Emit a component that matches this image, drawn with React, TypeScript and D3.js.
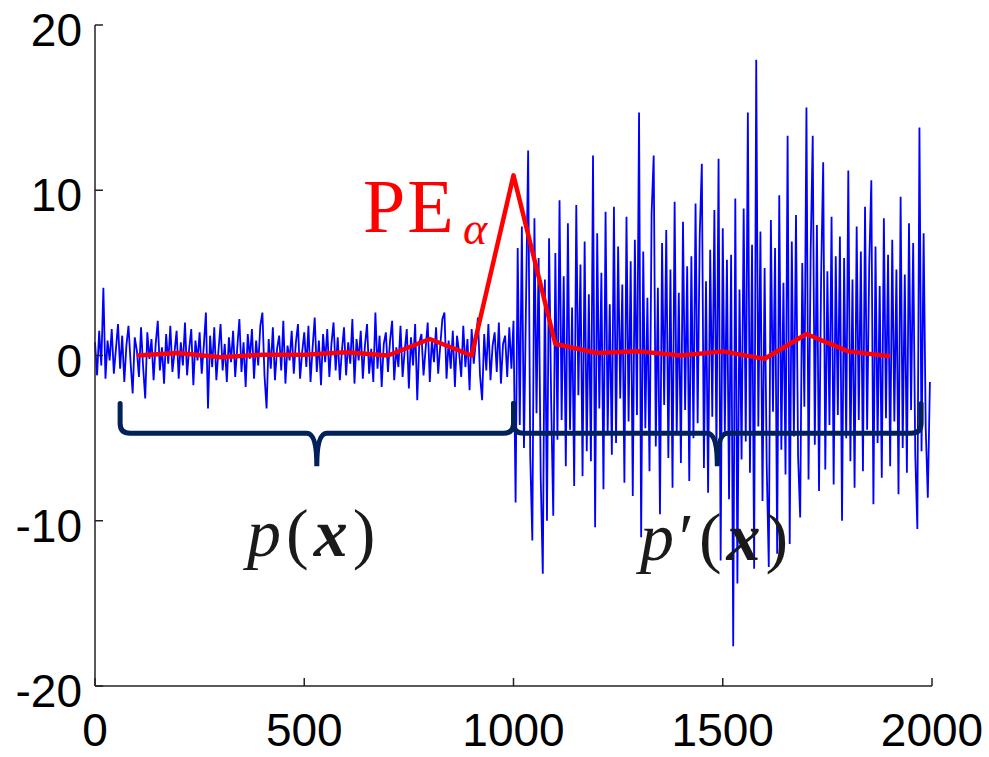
import React from "react";
import * as d3 from "d3";

const W = 989;
const H = 757;

const xTicks = [0, 500, 1000, 1500, 2000];
const yTicks = [-20, -10, 0, 10, 20];

// blue signal, read every 5 samples
const sampleStep = 5;
const signalBefore = [
  0.8, -1.2, 1.5, -0.6, 4.1, -1.4, 0.9, -0.3, 1.6, -1.1, 0.4, 1.9, -0.8, 1.2, -1.6, 0.6, 1.8, -0.4, -2.3, 1.1,
  0.3, -1.3, 1.7, -0.7, -2.6, 1.4, -0.2, 1.0, -1.5, 0.7, 2.1, -0.9, 0.5, -1.7, 1.3, -0.5, 1.8, -1.0, 0.2, 1.5,
  -1.4, 0.8, -0.6, 2.0, -1.2, 0.4, 1.6, -1.8, 0.9, -0.3, 1.4, -1.1, 0.6, 2.6, -3.2, 1.2, -0.7, 1.7, -1.5, 0.3,
  1.9, -0.9, 0.7, -1.6, 1.1, -0.4, 1.5, -1.3, 0.5, 2.2, -1.0, 0.8, -1.9, 1.3, -0.2, 1.6, -1.4, 0.9, -0.6, 1.8,
  2.6, -1.2, -3.2, 1.0, -0.8, 1.7, -1.5, 0.4, 1.2, -0.9, 2.1, -1.7, 0.6, -0.3, 1.5, -1.1, 0.8, 1.9, -1.4, 0.2,
  1.4, -0.7, 1.8, -1.6, 0.5, 2.3, -1.0, 0.9, -1.8, 1.3, -0.4, 1.6, -1.3, 0.7, 2.0, -0.9, 1.1, -1.5, 0.3, 1.7,
  -1.2, 0.8, -0.5, 2.2, -1.7, 1.0, -0.3, 1.5, -1.4, 0.6, 1.9, -1.1, 0.4, -1.6, 2.6, -0.8, 1.2, -1.9, 0.7, 1.4,
  -1.0, 0.9, 2.1, -1.5, 0.5, -0.7, 1.8, -1.3, 0.3, 1.6, -2.0, 1.1, -0.6, 1.9, -2.7, 0.8, 1.3, -1.2, 0.4, 2.0,
  -1.6, 1.0, -0.4, 1.7, -1.1, 0.6, 2.2, 2.6, -1.4, 0.9, -0.8, 1.5, -1.9, 1.2, 0.2, -1.3, 1.8, -0.7, 1.0, -2.1,
  1.6, -0.5, 0.9, 2.3, -1.2, -2.7, 1.3, -0.9, 1.9, -1.5, 0.6, 1.4, -1.0, 2.0, -1.7, 0.7, 1.2, -1.3, 1.7, -0.8,
];
const signalAfter = [
  2.1, -8.9, 6.5, -4.2, 7.8, -5.6, 3.4, 12.4, -6.1, -11.2, 8.3, -3.5, 5.9, -7.4, -13.2, 4.6, -10.0, 7.1, -2.8, -9.7,
  6.2, -5.1, 9.4, -3.9, 4.8, -6.7, 8.0, -4.5, 2.9, -7.9, 9.1, -2.4, 5.5, -7.3, 6.9, -5.8, 3.7, -6.4, 12.1, -10.4,
  7.4, -3.2, 5.0, -8.1, 8.7, -4.7, 3.1, -6.0, 9.0, -5.3, 6.6, -2.6, 4.3, -7.7, 8.4, -4.0, 5.7, -8.5, 7.0, -3.6,
  14.7, -11.0, 6.3, -4.4, 3.5, -7.0, 8.6, 12.1, -5.5, 4.1, -9.6, 6.8, -3.0, 7.6, -6.2, 5.2, -8.0, 9.3, -4.8, 3.8,
  -6.5, 8.1, -3.3, 5.4, -7.6, 6.0, -5.0, 9.2, -4.1, 7.3, 11.6, -6.8, 4.5, -8.3, 6.4, -3.7, 8.8, -5.9, 11.9, -12.4,
  7.7, -4.6, 5.8, -8.7, 6.1, -17.6, 9.5, -13.8, 4.0, -6.3, 8.9, -5.2, 14.7, -7.1, 6.7, -12.9, 17.9, -4.3, 7.5, -8.8,
  5.3, -6.6, -12.8, 8.2, -3.4, 6.5, -12.0, 9.7, -5.7, 4.4, -7.2, 13.3, -11.4, 6.9, -4.9, 8.5, -6.1, -9.8, 5.6, -3.1,
  15.0, -7.5, 6.2, 13.3, -5.4, 7.9, -8.2, 4.7, 11.7, -6.9, 5.1, -4.2, 8.4, -7.8, 6.0, -3.6, 7.2, -10.0, 5.9, -5.0,
  11.2, -6.4, 4.6, -8.0, 7.8, -3.9, 6.3, -7.0, 9.0, -4.5, 5.5, 10.6, -9.0, 6.6, -5.3, 4.2, -7.4, 8.3, -3.8, 6.1,
  -6.7, 7.0, -4.0, 5.2, -8.4, 9.6, -5.6, 4.9, -7.1, 8.0, -3.3, 6.8, -6.0, -10.5, 13.8, -5.8, 7.4, -4.4, -8.6, -1.6,
];

// PE_alpha curve
const peX = [100, 200, 300, 400, 500, 600, 700, 800, 900, 1000, 1100, 1200, 1300, 1400, 1500, 1600, 1700, 1800, 1900];
const peY = [0, 0.15, -0.1, 0.05, 0.05, 0.2, 0, 1.0, 0, 10.9, 0.7, 0.15, 0.25, 0, 0.25, -0.2, 1.3, 0.25, -0.05];

// braces under the two halves: [start, end, tip]
const braces = [
  [60, 1000, 530],
  [1000, 1974, 1487],
];
const braceTop = -2.9;
const braceBar = -4.7;
const braceTip = -6.7;

export default function App() {
  const x = d3.scaleLinear().domain([0, 2000]).range([95, 932]);
  const y = d3.scaleLinear().domain([-20, 20]).range([686, 25]);

  const signal = [...signalBefore, ...signalAfter];
  const blueLine = d3
    .line<number>()
    .x((_, i) => x(i * sampleStep))
    .y((d) => y(d));
  const redLine = d3
    .line<number>()
    .x((_, i) => x(peX[i]))
    .y((d) => y(d));

  const bracePath = (b: number[]) => {
    const x0 = x(b[0]);
    const x1 = x(b[1]);
    const xm = x(b[2]);
    const yt = y(braceTop);
    const yb = y(braceBar);
    const yc = y(braceTip);
    const r = 10;
    return (
      `M${x0},${yt} L${x0},${yb - r} Q${x0},${yb} ${x0 + r},${yb} L${xm - r},${yb} Q${xm},${yb} ${xm},${yc}` +
      ` Q${xm},${yb} ${xm + r},${yb} L${x1 - r},${yb} Q${x1},${yb} ${x1},${yb - r} L${x1},${yt}`
    );
  };

  const tickFont = "'Liberation Sans', Arial, sans-serif";
  const mathFont = "'Liberation Serif', 'Times New Roman', serif";

  return (
    <svg width={W} height={H} style={{ position: "absolute", left: 0, top: 0, background: "#fff" }}>
      <path d={blueLine(signal) || ""} fill="none" stroke="#0000ff" strokeWidth={1.8} strokeLinejoin="bevel" />
      <path d={redLine(peY) || ""} fill="none" stroke="#ff0000" strokeWidth={4.5} strokeLinejoin="round" />
      {braces.map((b, i) => (
        <path key={i} d={bracePath(b)} fill="none" stroke="#00215a" strokeWidth={5} strokeLinecap="round" />
      ))}

      <g stroke="#222" strokeWidth={1.5}>
        <line x1={x(0)} x2={x(0)} y1={y(20)} y2={y(-20)} />
        <line x1={x(0)} x2={x(2000)} y1={y(-20)} y2={y(-20)} />
        {yTicks.map((t) => (
          <line key={"y" + t} x1={x(0)} x2={x(0) + 8} y1={y(t)} y2={y(t)} />
        ))}
        {xTicks.map((t) => (
          <line key={"x" + t} x1={x(t)} x2={x(t)} y1={y(-20)} y2={y(-20) - 8} />
        ))}
      </g>
      <g fontFamily={tickFont} fontSize={46} fill="#000">
        {yTicks.map((t) => (
          <text key={"yl" + t} x={x(0) - 13} y={y(t) + 21} textAnchor="end">
            {t}
          </text>
        ))}
        {xTicks.map((t) => (
          <text key={"xl" + t} x={x(t)} y={746} textAnchor="middle">
            {t}
          </text>
        ))}
      </g>

      <text x={363} y={232} fontFamily={mathFont} fontSize={76} fill="#ff0000" letterSpacing={2}>
        PE
      </text>
      <text x={463} y={244} fontFamily={mathFont} fontSize={46} fontStyle="italic" fill="#ff0000">
        α
      </text>

      <text x={247} y={556} fontFamily={mathFont} fontSize={68} fill="#1a1a1a" letterSpacing={5}>
        <tspan fontStyle="italic">p</tspan>
        <tspan>(</tspan>
        <tspan fontStyle="italic" fontWeight="bold">x</tspan>
        <tspan>)</tspan>
      </text>
      <text x={640} y={560} fontFamily={mathFont} fontSize={68} fill="#1a1a1a" letterSpacing={5}>
        <tspan fontStyle="italic">p</tspan>
        <tspan>′</tspan>
        <tspan>(</tspan>
        <tspan fontStyle="italic" fontWeight="bold">x</tspan>
        <tspan>)</tspan>
      </text>
    </svg>
  );
}
